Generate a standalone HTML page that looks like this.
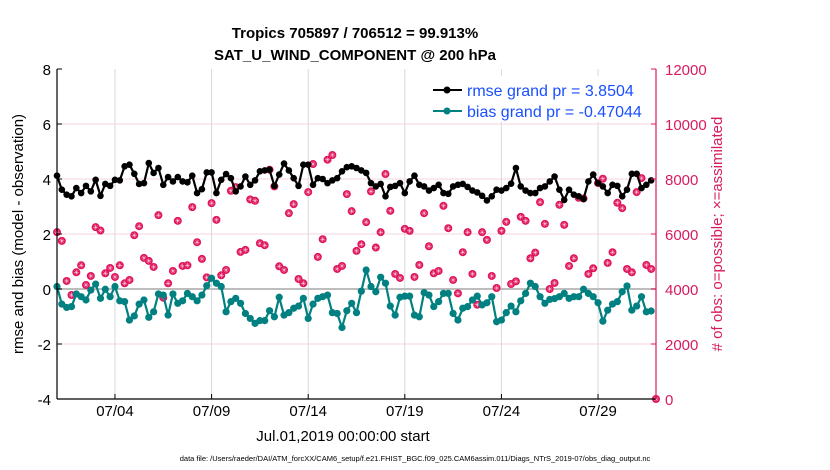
<!DOCTYPE html>
<html><head><meta charset="utf-8"><style>
body{margin:0;background:#fff;}
svg{display:block;font-family:"Liberation Sans",sans-serif;}
</style></head><body>
<svg id="chart" width="830" height="470">
<g id="grid"></g>
<g id="series"></g>
<g id="axes"></g>
<text x="355" y="38" text-anchor="middle" font-size="15" font-weight="bold">Tropics 705897 / 706512 = 99.913%</text>
<text x="355" y="60" text-anchor="middle" font-size="15" font-weight="bold">SAT_U_WIND_COMPONENT @ 200 hPa</text>
<text transform="translate(23,234) rotate(-90)" text-anchor="middle" font-size="15">rmse and bias (model - observation)</text>
<text transform="translate(722,234) rotate(-90)" text-anchor="middle" font-size="15" fill="#d81b60"># of obs: o=possible; ×=assimilated</text>
<text x="343" y="441" text-anchor="middle" font-size="15">Jul.01,2019 00:00:00 start</text>
<text x="415" y="461" text-anchor="middle" font-size="7.5">data file: /Users/raeder/DAI/ATM_forcXX/CAM6_setup/f.e21.FHIST_BGC.f09_025.CAM6assim.011/Diags_NTrS_2019-07/obs_diag_output.nc</text>
<g>
<rect x="410" y="76" width="240" height="46" fill="#fff"/>
<g>
<line x1="433" y1="90" x2="462" y2="90" stroke="#000" stroke-width="2"/><circle cx="447" cy="90" r="3.5" fill="#000"/>
<text x="467" y="96" font-size="16" fill="#1a4fff">rmse grand pr = 3.8504</text></g>
<g>
<line x1="433" y1="111" x2="462" y2="111" stroke="#008080" stroke-width="2"/><circle cx="447" cy="111" r="3.5" fill="#008080"/>
<text x="467" y="117" font-size="16" fill="#1a4fff">bias grand pr = -0.47044</text></g>
</g>
</svg>
<script>
const rmse=[4.12,3.61,3.43,3.37,3.67,3.49,3.75,3.55,3.97,3.39,3.82,3.75,3.97,3.95,4.46,4.52,4.19,3.82,3.85,4.58,4.22,4.40,3.79,4.07,3.91,4.07,3.91,3.88,4.12,3.49,3.63,4.24,4.24,3.49,3.97,4.18,4.03,3.55,3.73,4.09,3.79,3.95,4.28,4.31,4.34,3.75,4.16,4.56,4.31,4.03,3.75,4.52,4.52,3.79,4.03,4.00,3.85,3.95,4.03,4.28,4.43,4.46,4.40,4.31,4.22,3.85,3.73,3.82,3.37,3.71,3.75,3.85,3.49,3.91,4.12,3.79,3.73,3.58,3.67,3.79,3.49,3.46,3.73,3.79,3.82,3.71,3.58,3.51,3.39,3.22,3.37,3.61,3.58,3.67,3.83,4.40,3.73,3.58,3.49,3.49,3.67,3.73,3.91,4.09,3.61,3.24,3.61,3.43,3.37,3.27,3.91,4.16,3.85,3.73,3.49,3.79,3.75,3.37,3.61,4.19,4.19,3.67,3.79,3.95];
const bias=[0.09,-0.55,-0.67,-0.64,-0.18,-0.28,-0.40,-0.04,0.18,-0.34,-0.01,-0.28,0.09,-0.43,-0.46,-1.13,-0.98,-0.55,-0.40,-1.03,-0.83,-0.18,-0.22,-0.95,-0.18,-0.52,-0.43,-0.16,-0.28,-0.43,-0.22,0.12,0.39,0.21,0.09,-0.83,-0.46,-0.34,-0.52,-0.89,-1.07,-1.25,-1.15,-1.15,-0.79,-1.01,-0.30,-0.95,-0.86,-0.70,-0.62,-0.34,-1.07,-0.55,-0.34,-0.28,-0.22,-0.86,-0.89,-1.40,-0.79,-0.52,-0.86,-0.08,0.69,0.09,-0.10,0.43,0.21,-0.62,-0.95,-0.30,-0.26,-0.26,-0.95,-1.01,-0.13,-0.22,-0.64,-0.46,-0.16,-0.16,-0.89,-1.13,-0.70,-0.64,-0.40,-0.26,-0.58,-0.50,-0.28,-1.19,-1.13,-0.86,-0.62,-0.83,-0.43,-0.16,0.21,0.09,-0.28,-0.52,-0.38,-0.35,-0.28,-0.16,-0.34,-0.28,-0.28,-0.01,-0.16,-0.28,-0.50,-1.17,-0.77,-0.55,-0.46,-0.10,0.11,-0.77,-0.62,-0.28,-0.83,-0.80];
const nobs=[6066,5750,4292,3781,4608,4863,4146,4474,6248,6126,4571,4765,4437,4863,4207,4328,5956,6284,5130,5021,4802,6685,3684,4207,4656,6479,4838,4863,6977,5701,5094,4425,7123,6515,4498,4693,7572,7706,5349,5422,7256,7208,5665,5592,8338,7730,4826,4693,6758,7086,4365,4207,7524,8544,5166,5810,8702,8872,4729,4838,7451,6831,5385,5628,6430,7548,5507,6066,8180,6843,4547,4401,6187,6114,4437,4875,6758,5555,4571,4656,7025,6211,4328,3842,5337,6066,4547,3429,6066,5786,4474,4036,6114,6442,4182,4279,6624,6479,5118,5324,7159,6369,4000,4219,7062,6333,4838,5118,7317,7293,4547,4753,7852,8010,4948,5337,7135,6940,4729,4608,7524,8034,4875,4729,0];
const leftTicks=[-4,-2,0,2,4,6,8];
const rightTicks=[0,2000,4000,6000,8000,10000,12000];
const xTickDays=[3,8,13,18,23,28];
const xTickLabels=["07/04","07/09","07/14","07/19","07/24","07/29"];
const STEP=0.25;

const X0=57,X1=656,Y0=69,Y1=399;
const xs=d=>X0+(X1-X0)*d/31;
const yl=v=>Y1-(v+4)/12*(Y1-Y0);
const yr=v=>Y1-v/12000*(Y1-Y0);
const NS='http://www.w3.org/2000/svg';
function mk(p,tag,at){const e=document.createElementNS(NS,tag);for(const k in at)e.setAttribute(k,at[k]);p.appendChild(e);return e;}
const grid=document.getElementById('grid'),ser=document.getElementById('series'),ax=document.getElementById('axes');

xTickDays.forEach((d,i)=>{
 const g=mk(grid,'line',{x1:xs(d),x2:xs(d),y1:Y0,y2:Y1,stroke:'#d9d9d9','stroke-width':1});
 
 
 const t=mk(ax,'text',{x:xs(d),y:416,'text-anchor':'middle','font-size':15});
 t.textContent=xTickLabels[i];
 
 
 mk(ax,'line',{x1:xs(d),x2:xs(d),y1:Y1,y2:Y1-5,stroke:'#000'});
});
rightTicks.forEach(v=>{
 if(v>0&&v<12000&&v!==4000){const g=mk(grid,'line',{x1:X0,x2:X1,y1:yr(v),y2:yr(v),stroke:'#f3d3e0','stroke-width':1});
 
 }
 const t=mk(ax,'text',{x:665,y:yr(v)+6,'font-size':15,fill:'#d81b60'});
 t.textContent=v;
 
 
 mk(ax,'line',{x1:X1,x2:X1-5,y1:yr(v),y2:yr(v),stroke:'#d81b60'});
});
leftTicks.forEach(v=>{
 const t=mk(ax,'text',{x:51,y:yl(v)+6,'font-size':15,'text-anchor':'end'});
 t.textContent=v;
 
 
 mk(ax,'line',{x1:X0,x2:X0+5,y1:yl(v),y2:yl(v),stroke:'#000'});
});
const zl=mk(grid,'line',{x1:X0,x2:X1,y1:yl(0),y2:yl(0),stroke:'#bdbdbd','stroke-width':2});



nobs.forEach((v,i)=>{
 const g=mk(ser,'g',{});
 
 
 const cx=xs(i*STEP),cy=yr(v);
 mk(g,'circle',{cx:cx,cy:cy,r:4,fill:'#e0145c'});
 mk(g,'path',{d:`M${cx-2.6} ${cy}H${cx+2.6}M${cx} ${cy-2.6}V${cy+2.6}M${cx-1.8} ${cy-1.8}L${cx+1.8} ${cy+1.8}M${cx-1.8} ${cy+1.8}L${cx+1.8} ${cy-1.8}`,stroke:'#fff','stroke-width':0.5,'stroke-opacity':0.8});
});
function line(arr,color,name,r){
 const d=arr.map((v,i)=>(i?'L':'M')+xs(i*STEP).toFixed(1)+' '+yl(v).toFixed(1)).join('');
 const p=mk(ser,'path',{d:d,fill:'none',stroke:color,'stroke-width':2.2,'stroke-linejoin':'round'});
 
 
 arr.forEach((v,i)=>{
  const c=mk(ser,'circle',{cx:xs(i*STEP),cy:yl(v),r:r,fill:color});
  
  
 });
}
line(rmse,'#000','rmse',3.3);
line(bias,'#008080','bias',3.6);

mk(ax,'line',{x1:X0,x2:X0,y1:Y0,y2:Y1,stroke:'#000','stroke-width':1.2});
mk(ax,'line',{x1:X0,x2:X1,y1:Y1,y2:Y1,stroke:'#000','stroke-width':1.2});
mk(ax,'line',{x1:X1,x2:X1,y1:Y0,y2:Y1,stroke:'#d81b60','stroke-width':1.2});
</script>
</body></html>
